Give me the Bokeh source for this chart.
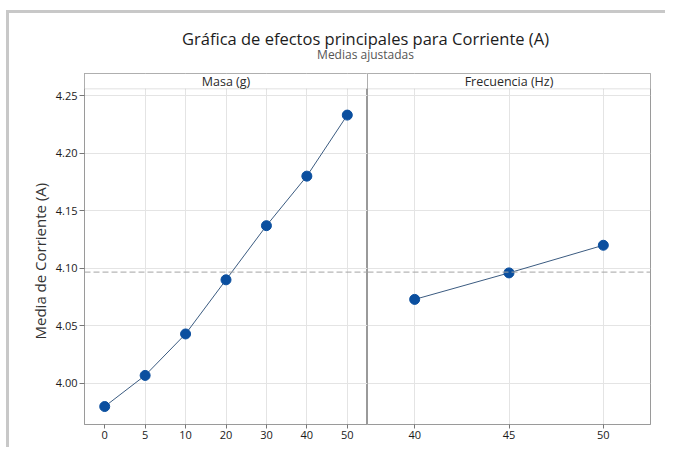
from bokeh.plotting import figure
from bokeh.layouts import column, row
from bokeh.models import Range1d, FixedTicker, Span, BoxAnnotation, Label, Title, NumeralTickFormatter
from bokeh.embed import file_html
from bokeh.resources import INLINE

# ---- data ----
masa_levels = ["0", "5", "10", "20", "30", "40", "50"]
masa_means = [3.980, 4.007, 4.043, 4.090, 4.137, 4.180, 4.233]
frec_levels = ["40", "45", "50"]
frec_means = [4.073, 4.096, 4.120]
grand_mean = 4.0967
y_ticks = [4.00, 4.05, 4.10, 4.15, 4.20, 4.25]

title_text = "Gráfica de efectos principales para Corriente (A)"
subtitle_text = "Medias ajustadas"
y_label = "Media de Corriente (A)"
panel_titles = ["Masa (g)", "Frecuencia (Hz)"]

FONT = "Open Sans"
GRID = "#e4e4e4"
FRAME = "#9a9a9a"
POINT = "#0b4f9f"
LINE = "#3b5b80"

y_min, strip_bottom, y_max = 3.9644, 4.2558, 4.2691
y_range = Range1d(y_min, y_max)

LEFT_W, RIGHT_W = 358, 298
LEFT_B, RIGHT_B = 75, 15


def panel(levels, means, title, width, border_left, border_right, show_y):
    p = figure(x_range=levels, y_range=y_range, width=width, height=374,
               min_border_left=border_left, min_border_right=border_right,
               min_border_top=0, min_border_bottom=23,
               toolbar_location=None, output_backend="svg",
               y_axis_location="left" if show_y else None)
    p.background_fill_color = "white"
    p.border_fill_color = "white"
    p.outline_line_color = FRAME
    p.outline_line_width = 1

    p.xgrid.grid_line_color = GRID
    p.ygrid.ticker = FixedTicker(ticks=y_ticks)
    p.ygrid.grid_line_color = GRID

    p.xaxis.axis_line_color = FRAME
    p.xaxis.major_tick_line_color = "#777777"
    p.xaxis.major_tick_out = 4
    p.xaxis.major_tick_in = 0
    p.xaxis.major_label_standoff = 2
    p.xaxis.major_label_text_font = FONT
    p.xaxis.major_label_text_font_size = "11px"
    p.xaxis.major_label_text_color = "#1a1a1a"

    if show_y:
        ax = p.yaxis[0]
        ax.ticker = FixedTicker(ticks=y_ticks)
        ax.formatter = NumeralTickFormatter(format="0.00")
        ax.axis_line_color = FRAME
        ax.major_tick_line_color = "#777777"
        ax.minor_tick_line_color = None
        ax.major_tick_out = 5
        ax.major_tick_in = 0
        ax.major_label_standoff = 2
        ax.major_label_text_font = FONT
        ax.major_label_text_font_size = "11px"
        ax.major_label_text_color = "#1a1a1a"
        # axis title, centred on the data area (below the header strip)
        p.add_layout(Title(text=y_label, align="left", offset=85, standoff=6,
                           text_font=FONT, text_font_size="15px", text_font_style="normal",
                           text_color="#333333"), "left")

    p.add_layout(Span(location=grand_mean, dimension="width", line_color="#a3a3a3",
                      line_dash="6 3", line_width=1))

    p.line(levels, means, line_color=LINE, line_width=1)
    p.scatter(levels, means, size=10, fill_color=POINT, line_color=POINT)

    # panel header strip
    p.add_layout(BoxAnnotation(bottom=strip_bottom, top=y_max, fill_color="white",
                               fill_alpha=1, line_color=FRAME, line_width=1))
    p.add_layout(Label(x=len(levels) / 2, y=(strip_bottom + y_max) / 2,
                       text=title, text_align="center", text_baseline="middle",
                       text_font=FONT, text_font_size="12.5px", text_color="#2a2a2a"))
    return p


left = panel(masa_levels, masa_means, panel_titles[0], LEFT_W, LEFT_B, 0, True)
right = panel(frec_levels, frec_means, panel_titles[1], RIGHT_W, 0, RIGHT_B, False)

tf = figure(width=LEFT_W + RIGHT_W, height=60, x_range=Range1d(0, 1), y_range=Range1d(0, 1),
            min_border=0, toolbar_location=None, output_backend="svg",
            x_axis_location=None, y_axis_location=None)
tf.grid.visible = False
tf.outline_line_color = None
tf.border_fill_color = "white"
tf.add_layout(Label(x=0.5427, y=0.58, text=title_text, text_align="center",
                    text_baseline="middle", text_font=FONT, text_font_size="16.5px",
                    text_color="#1c1c1c"))
tf.add_layout(Label(x=0.5427, y=0.31, text=subtitle_text, text_align="center",
                    text_baseline="middle", text_font=FONT, text_font_size="12px",
                    text_color="#555555"))

layout = column(tf, row(left, right),
                styles={"border-top": "3px solid #c8c8c8", "border-left": "3px solid #c8c8c8",
                        "margin-left": "6px", "margin-top": "10px"})

open("out.html", "w").write(file_html(layout, INLINE))
